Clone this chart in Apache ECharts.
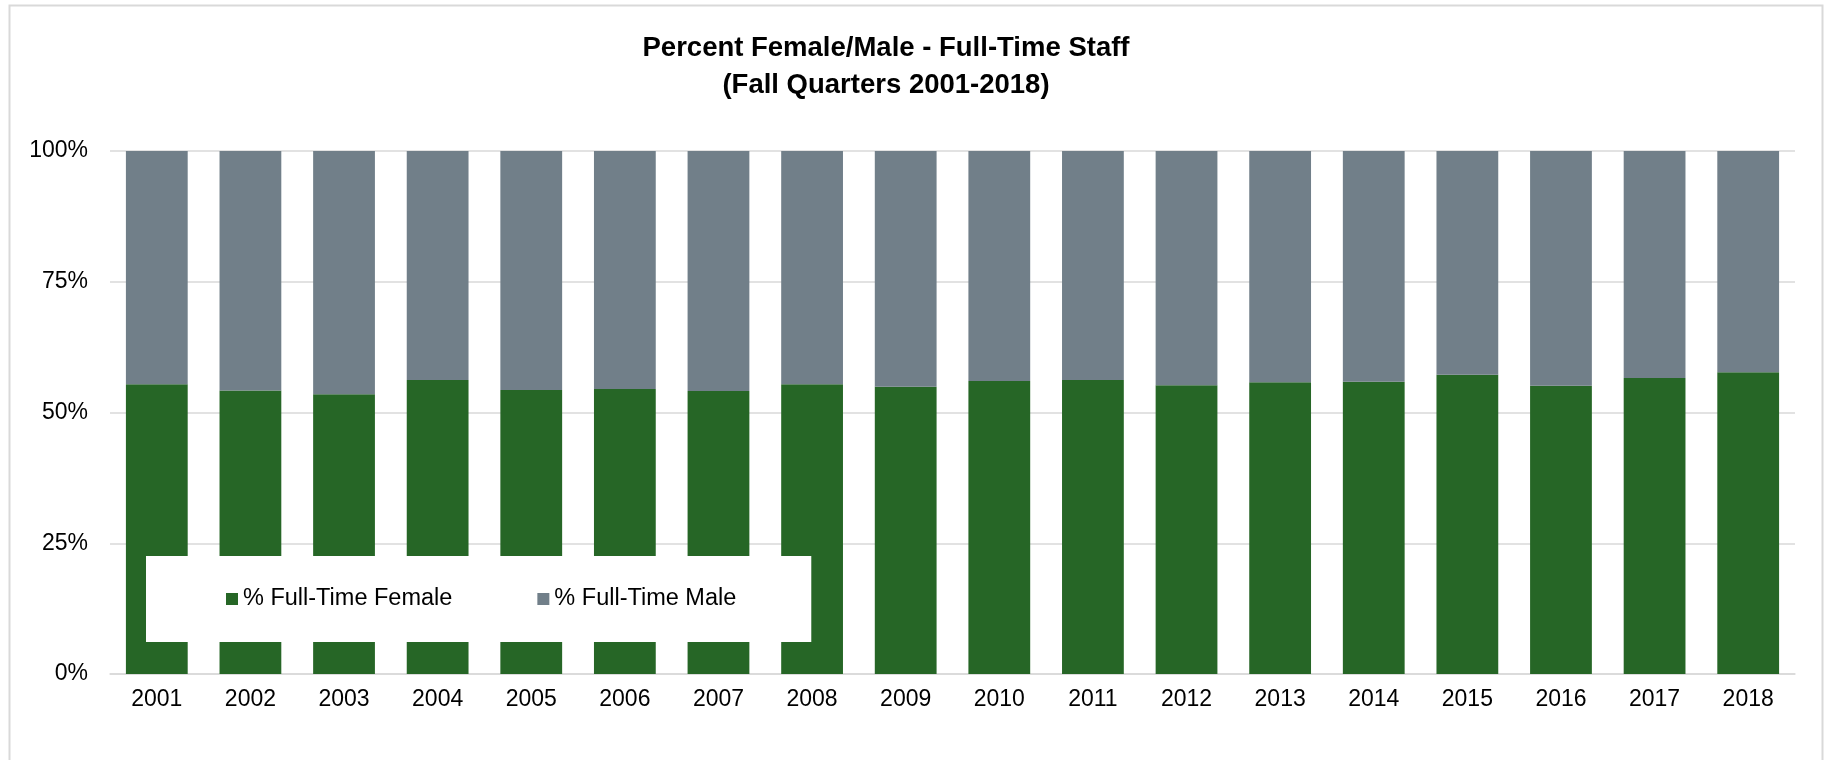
<!DOCTYPE html>
<html>
<head>
<meta charset="utf-8">
<title>Percent Female/Male - Full-Time Staff</title>
<script src="https://cdn.jsdelivr.net/npm/echarts@6/dist/echarts.min.js"></script>
<style>
    html, body { margin: 0; padding: 0; background: #fff; }
    #main { width: 1831px; height: 760px; }
</style>
</head>
<body>
<div id="main"></div>
<script>
// 数据
var years = ['2001', '2002', '2003', '2004', '2005', '2006', '2007', '2008', '2009',
    '2010', '2011', '2012', '2013', '2014', '2015', '2016', '2017', '2018'];
var femalePct = [55.4, 54.2, 53.5, 56.2, 54.3, 54.5, 54.1, 55.4, 54.9,
    56.0, 56.2, 55.2, 55.8, 55.9, 57.2, 55.1, 56.6, 57.7];
var malePct = [44.6, 45.8, 46.5, 43.8, 45.7, 45.5, 45.9, 44.6, 45.1,
    44.0, 43.8, 44.8, 44.2, 44.1, 42.8, 44.9, 43.4, 42.3];
var yTicks = [0, 25, 50, 75, 100];

var font = '"Liberation Sans", Arial, sans-serif';
var chart = echarts.init(document.getElementById('main'));

var option = {
    backgroundColor: '#fff',
    animation: false,
    title: {
        text: 'Percent Female/Male - Full-Time Staff\n(Fall Quarters 2001-2018)',
        left: 881,
        top: 25,
        textAlign: 'center',
        textStyle: {
            fontFamily: font,
            fontSize: 27.5,
            fontWeight: 'bold',
            color: '#000',
            lineHeight: 37
        }
    },
    graphic: [{
        // 外边框
        type: 'rect',
        silent: true,
        shape: { x: 9.5, y: 5.5, width: 1813, height: 820 },
        style: { fill: 'none', stroke: '#d9d9d9', lineWidth: 2 }
    }],
    legend: {
        left: 146,
        top: 556,
        orient: 'horizontal',
        padding: [31, 75, 31, 80],
        backgroundColor: '#fff',
        itemWidth: 12,
        itemHeight: 12,
        itemGap: 85,
        icon: 'rect',
        textStyle: { fontFamily: font, fontSize: 23.5, color: '#000' },
        data: ['% Full-Time Female', '% Full-Time Male']
    },
    grid: {
        left: 110,
        right: 36,
        top: 151,
        bottom: 86
    },
    xAxis: {
        type: 'category',
        data: years,
        axisTick: { show: false },
        axisLine: { show: true, lineStyle: { color: '#d9d9d9', width: 1.5 } },
        axisLabel: { fontFamily: font, fontSize: 23, color: '#000', margin: 14 }
    },
    yAxis: {
        type: 'value',
        min: yTicks[0],
        max: yTicks[yTicks.length - 1],
        interval: 25,
        axisLine: { show: false },
        axisTick: { show: false },
        splitLine: { lineStyle: { color: '#d9d9d9', width: 1.5 } },
        axisLabel: {
            fontFamily: font, fontSize: 23, color: '#000', margin: 22,
            formatter: '{value}%'
        }
    },
    series: [
        {
            name: '% Full-Time Female',
            type: 'bar',
            stack: 'total',
            barWidth: '66%',
            itemStyle: { color: '#266626' },
            data: femalePct
        },
        {
            name: '% Full-Time Male',
            type: 'bar',
            stack: 'total',
            barWidth: '66%',
            itemStyle: { color: '#717f89' },
            data: malePct
        }
    ]
};

chart.setOption(option);

window.addEventListener('resize', function () {
    chart.resize();
});
</script>
</body>
</html>
